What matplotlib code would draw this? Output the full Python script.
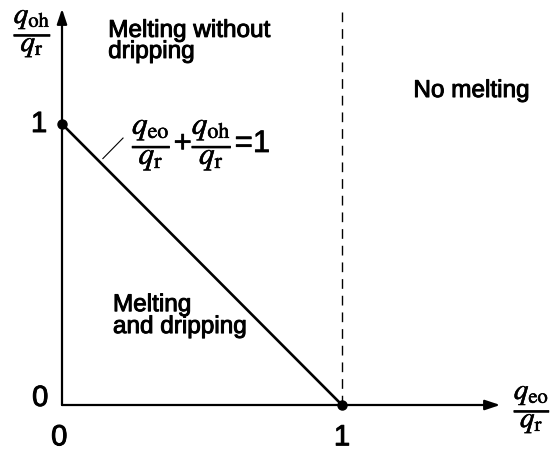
import matplotlib.pyplot as plt
import matplotlib.patheffects as pe
import numpy as np

plt.rcParams['font.family'] = ['Liberation Sans', 'DejaVu Sans']
plt.rcParams['mathtext.fontset'] = 'stix'

# boundary line q_eo/q_r + q_oh/q_r = 1
line_x = [0, 1]
line_y = [1, 0]
dots_x = [0, 1]
dots_y = [1, 0]
dash_x = 1
tick_pos = [0, 1]
tick_labels = ['0', '1']

heavy = [pe.withStroke(linewidth=0.7, foreground='black')]
light = [pe.withStroke(linewidth=0.4, foreground='black')]

fig = plt.figure(figsize=(5.54, 4.5), dpi=100)
ax = fig.add_axes([0, 0, 1, 1])
ax.set_xlim(-62 / 280, (554 - 62) / 280)
ax.set_ylim(-45 / 281, 405 / 281)
ax.axis('off')

# axes with arrows
arrow = dict(arrowstyle='-|>,head_length=0.9,head_width=0.3', color='black', lw=1.6,
             shrinkA=0, shrinkB=0)
ax.annotate('', xy=(1.565, 0), xytext=(0, 0), arrowprops=arrow)
ax.annotate('', xy=(0, 1.41), xytext=(0, 0), arrowprops=arrow)

ax.plot(line_x, line_y, color='black', lw=1.9)
ax.plot(dots_x, dots_y, 'o', color='black', ms=6.5)
ax.plot([dash_x, dash_x], [0, 1.40], color='black', lw=1, ls=(0, (7, 5)))

# tick labels
ax.text(tick_pos[0] - 0.01, -0.115, tick_labels[0], ha='center', va='center', fontsize=21, path_effects=heavy)
ax.text(tick_pos[1], -0.115, tick_labels[1], ha='center', va='center', fontsize=21, path_effects=heavy)
ax.text(-0.078, tick_pos[0] + 0.025, tick_labels[0], ha='center', va='center', fontsize=21, path_effects=heavy)
ax.text(-0.082, tick_pos[1], tick_labels[1], ha='center', va='center', fontsize=21, path_effects=heavy)

# axis labels
ax.text(-0.104, 1.32, r'$\dfrac{q_{\rm oh}}{q_{\rm r}}$', ha='center', va='center', fontsize=21,
        path_effects=light)
ax.text(1.68, -0.018, r'$\dfrac{q_{\rm eo}}{q_{\rm r}}$', ha='center', va='center', fontsize=21,
        path_effects=light)

# region labels
ax.text(0.165, 1.310, 'Melting without', ha='left', va='baseline', fontsize=17.5, path_effects=heavy)
ax.text(0.165, 1.235, 'dripping', ha='left', va='baseline', fontsize=17.5, path_effects=heavy)
ax.text(1.255, 1.096, 'No melting', ha='left', va='baseline', fontsize=17.5, path_effects=heavy)
ax.text(0.182, 0.334, 'Melting', ha='left', va='baseline', fontsize=17.5, path_effects=heavy)
ax.text(0.182, 0.256, 'and dripping', ha='left', va='baseline', fontsize=17.5, path_effects=heavy)

# equation with leader line
ax.plot([0.146, 0.218], [0.877, 0.95], color='black', lw=0.8)
ax.text(0.25, 0.925, r'$\dfrac{q_{\rm eo}}{q_{\rm r}}$+$\dfrac{q_{\rm oh}}{q_{\rm r}}$=1',
        ha='left', va='center', fontsize=22.5, path_effects=light)

fig.savefig('out.png', dpi=100)
